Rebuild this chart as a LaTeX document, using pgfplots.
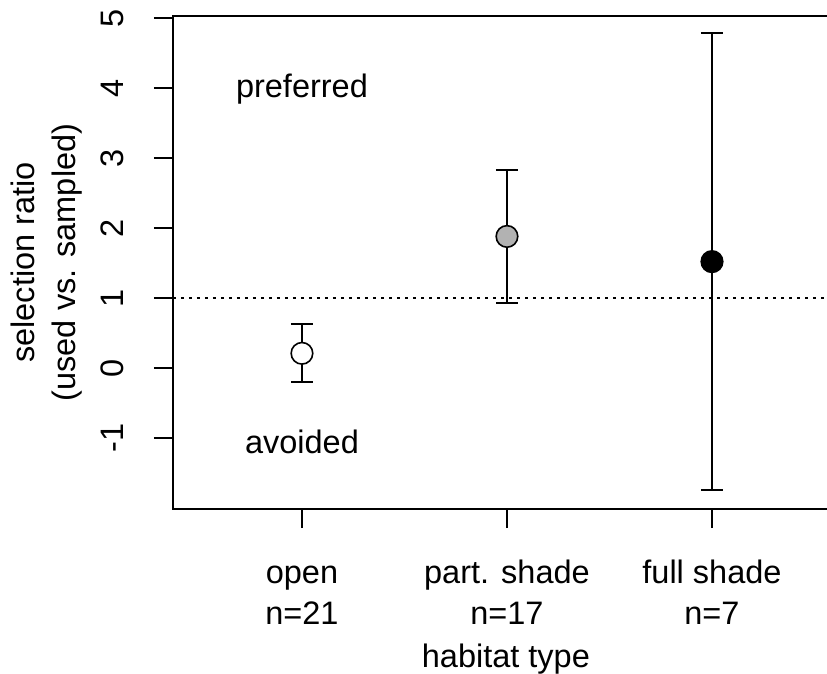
\documentclass[border=0pt]{standalone}
\usepackage{fontspec}
\setmainfont{Liberation Sans}
\usepackage{pgfplots}
\pgfplotsset{compat=1.18}
\definecolor{pgrey}{RGB}{178,178,178}
\newcommand{\bigf}{\fontsize{32.5bp}{41bp}\selectfont}
\begin{document}
\bigf
\begin{tikzpicture}
\begin{axis}[
 scale only axis,
 width=654bp, height=493bp,
 xmin=0.371, xmax=3.561,
 ymin=-2.014, ymax=5.029,
 axis line style={draw=none},
 tick align=outside,
 tick pos=left,
 major tick length=19bp,
 tick style={black, line width=1.9bp},
 xtick={1,2,3},
 xticklabels={{\strut open\\n=21},{\strut part. shade\\n=17},{\strut full shade\\n=7}},
 xticklabel style={align=center, anchor=north, inner sep=0pt, font=\bigf},
 xticklabel shift=27bp,
 ytick={-1,0,1,2,3,4,5},
 yticklabel style={rotate=90, anchor=south, inner sep=0pt, font=\bigf},
 yticklabel shift=30bp,
 /pgf/number format/assume math mode=true,
 xlabel={habitat type},
 ylabel={selection ratio\\(used vs. sampled)},
 every axis x label/.style={at={(axis description cs:0.509,-0.3225)}, anchor=base, inner sep=0pt, font=\bigf},
 every axis y label/.style={at={(axis description cs:-0.139,0.5)}, rotate=90, anchor=south, align=center, inner sep=0pt, font=\bigf},
 clip=false,
]
\coordinate (O) at (rel axis cs:0,0);
\addplot[black, line width=1.9bp, dash pattern=on 3bp off 5bp] coordinates {(0.371,1) (3.561,1)};
\addplot[black, only marks, mark=none,
  error bars/.cd, y dir=both, y explicit,
  error bar style={line width=1.9bp, black},
  error mark options={rotate=90, mark size=11bp, line width=1.9bp, black}]
  coordinates {(1,0.21) +- (0,0.415) (2,1.88) +- (0,0.95) (3,1.52) +- (0,3.26)};
\addplot[only marks, mark=*, mark size=10.8bp, line width=1.6bp, draw=black, fill=white] coordinates {(1,0.21)};
\addplot[only marks, mark=*, mark size=10.8bp, line width=1.6bp, draw=black, fill=pgrey] coordinates {(2,1.88)};
\addplot[only marks, mark=*, mark size=10.8bp, line width=1.6bp, draw=black, fill=black] coordinates {(3,1.52)};
\draw[line width=2bp, line cap=rect] (rel axis cs:1,1) -- (rel axis cs:0,1) -- (rel axis cs:0,0) -- (rel axis cs:1,0);
\node[anchor=base, font=\bigf] at (axis cs:1,3.86) {preferred};
\node[anchor=base, font=\bigf] at (axis cs:1,-1.214) {avoided};
\end{axis}
\pgfresetboundingbox
\path (O) ++(-173bp,-165bp) rectangle ++(827bp,674bp);
\end{tikzpicture}
\end{document}
